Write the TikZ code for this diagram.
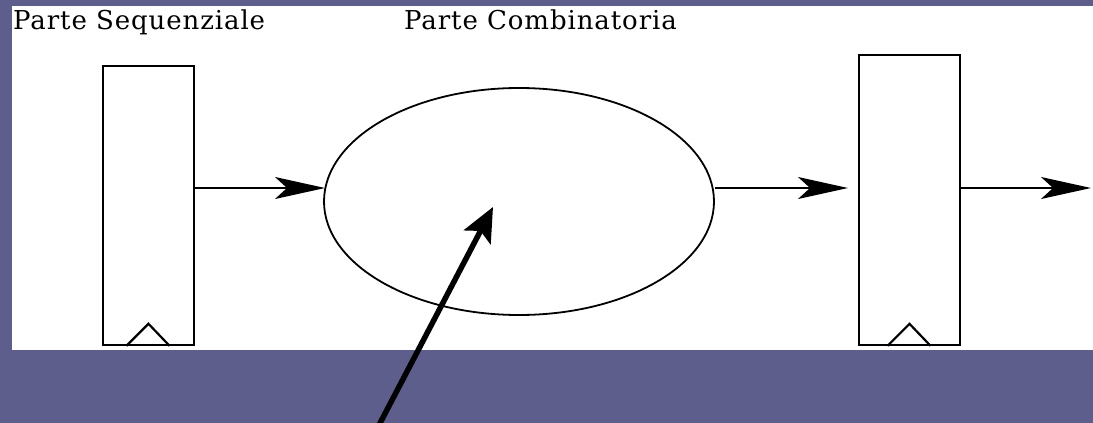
\documentclass[tikz,border=0pt]{standalone}
\usepackage{fontspec}
\setmainfont{DejaVu Serif}
\usetikzlibrary{arrows.meta,shapes.geometric}
\definecolor{bgpurple}{RGB}{94,94,140}
\begin{document}
\begin{tikzpicture}[x=1pt,y=-1pt,
  reg/.style={draw=black, line width=1.6pt, fill=white, inner sep=0pt, rectangle},
  comb/.style={draw=black, line width=1.8pt, ellipse, inner sep=0pt, minimum width=390pt, minimum height=227pt},
  thin/.style={line width=1.5pt, -{Stealth[length=50pt,width=22pt,inset=12pt]}},
  thick/.style={line width=5.5pt, -{Stealth[length=34pt,width=30pt,inset=7pt]}},
  clk/.style={line width=2.2pt},
  lbl/.style={anchor=base west, inner sep=0pt, font=\fontsize{26}{30}\selectfont\addfontfeature{LetterSpace=3.5}}
]
\useasboundingbox (0,0) rectangle (1093,423);
\fill[bgpurple] (0,0) rectangle (1093,423);
\fill[white] (12,6) rectangle (1093,350);

\node[lbl] (t1) at (13,30) {Parte Sequenziale};
\node[lbl] (t2) at (404,30) {Parte Combinatoria};

\node[reg, minimum width=91pt, minimum height=279pt] (r1) at (148.5,205.5) {};
\node[reg, minimum width=101pt, minimum height=290pt] (r2) at (909.5,200) {};
\node[comb] (c) at (519,201.5) {};

% clock triangles
\draw[clk] ([xshift=-22pt]r1.south) -- ([yshift=22pt]r1.south) -- ([xshift=21pt]r1.south);
\draw[clk] ([xshift=-22pt]r2.south) -- ([yshift=22pt]r2.south) -- ([xshift=21pt]r2.south);

\coordinate (a1) at (r1.east |- 0,188);
\coordinate (a2) at (c.east |- 0,188);
\coordinate (a3) at (r2.east |- 0,188);
\coordinate (e1) at (325,188);
\coordinate (e2) at (848,188);
\coordinate (e3) at (1091,188);
\draw[thin] (a1) -- (e1);
\draw[thin] (a2) -- (e2);
\draw[thin] (a3) -- (e3);

\coordinate (s) at (378,427);
\coordinate (tip) at (493,207);
\draw[thick] (s) -- (tip);
\end{tikzpicture}
\end{document}
